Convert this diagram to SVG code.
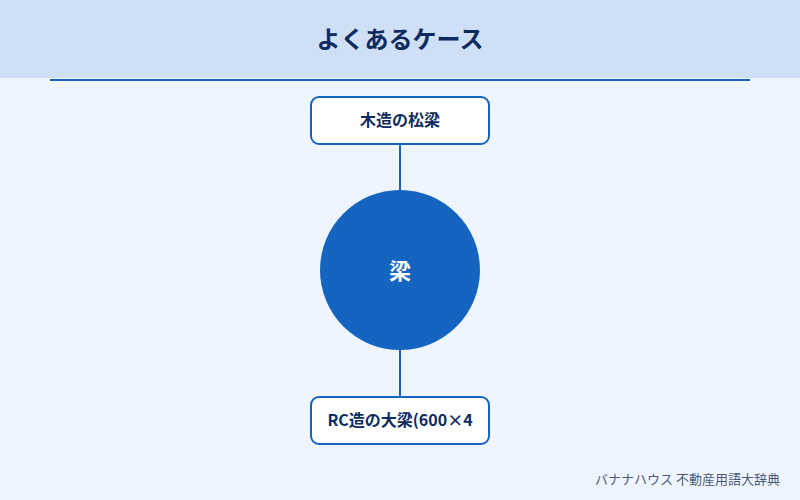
<svg xmlns="http://www.w3.org/2000/svg" width="800" height="500" viewBox="0 0 800 500">
<style>
.box{fill:#fff;stroke:#1565c0;stroke-width:2}
.lbl{font-family:"Noto Sans CJK JP",sans-serif;font-weight:bold;font-size:16px;fill:#0d2b5e;text-anchor:middle}
.ln{stroke:#1565c0;stroke-width:2}
</style>
<rect width="800" height="500" fill="#eef5fe"/>
<rect width="800" height="78" fill="#cfdff5"/>
<line x1="50" y1="80" x2="750" y2="80" stroke="#1565c0" stroke-width="2"/>
<text x="400" y="48" font-family="'Noto Sans CJK JP',sans-serif" font-weight="bold" font-size="24" fill="#0d2b5e" text-anchor="middle">よくあるケース</text>
<g id="connectors">
<line class="ln" x1="400" y1="144" x2="400" y2="190"/>
<line class="ln" x1="400" y1="350" x2="400" y2="397"/>
</g>
<g id="top"><rect class="box" x="311" y="97" width="178" height="47" rx="8"/><text class="lbl" x="400" y="126">木造の松梁</text></g>
<g id="center"><circle cx="400" cy="270" r="80" fill="#1565c0"/><text x="400" y="279" font-family="'Noto Sans CJK JP',sans-serif" font-weight="bold" font-size="22" fill="#fff" text-anchor="middle">梁</text></g>
<g id="bottom"><rect class="box" x="311" y="397" width="178" height="47" rx="8"/><text class="lbl" x="400" y="426">RC造の大梁(600×4</text></g>
<text x="780" y="484" font-family="'Noto Sans CJK JP',sans-serif" font-size="13" fill="#4a5a78" text-anchor="end">バナナハウス 不動産用語大辞典</text>
</svg>
